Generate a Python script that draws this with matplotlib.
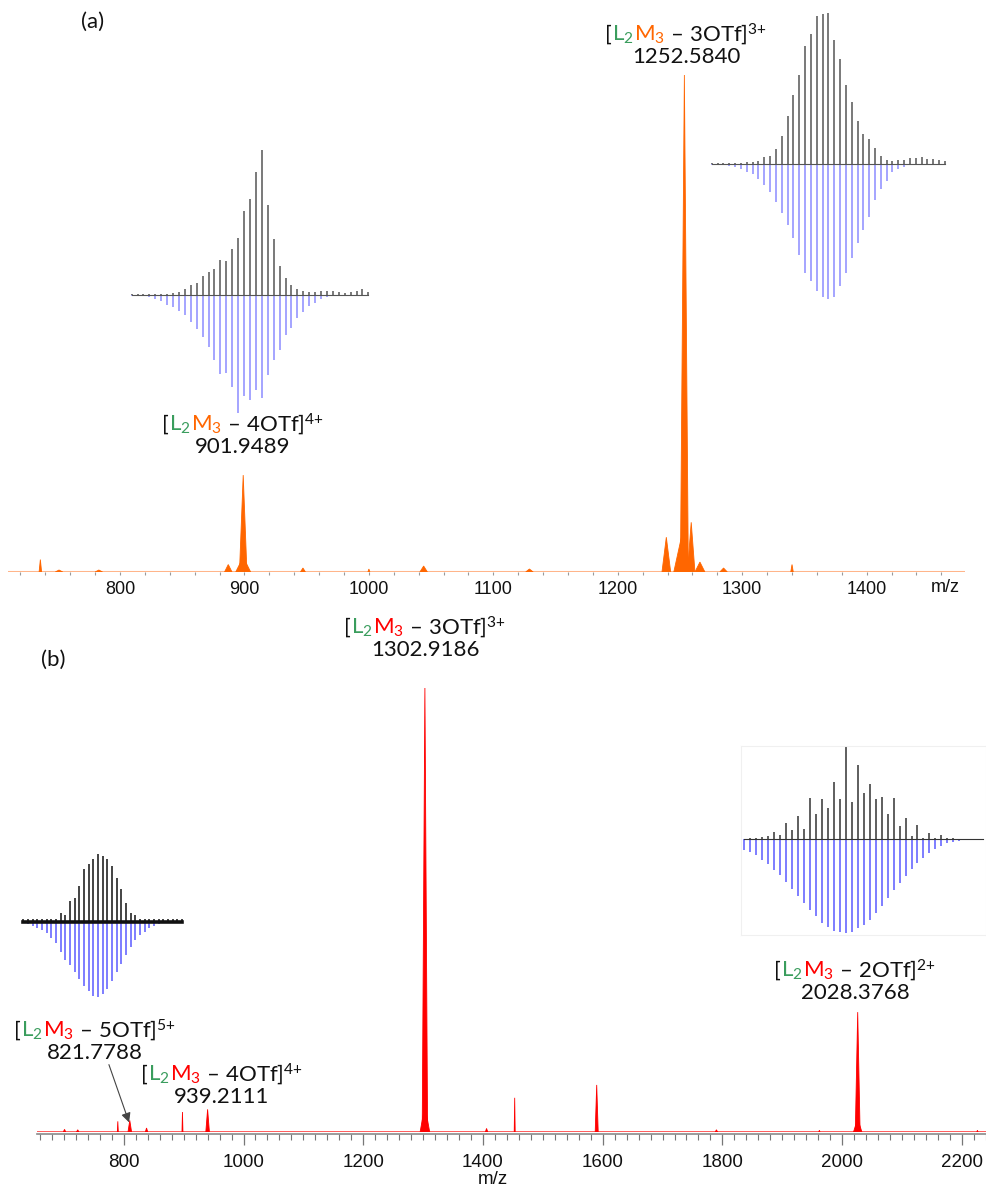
import numpy as np
import matplotlib
matplotlib.use("Agg")
from matplotlib import pyplot as plt
from matplotlib.offsetbox import TextArea, HPacker, VPacker, AnnotationBbox

plt.rcParams['font.family'] = ['Lato', 'DejaVu Sans']
plt.rcParams['mathtext.fontset'] = 'custom'
plt.rcParams['mathtext.rm'] = 'Lato'
plt.rcParams['mathtext.it'] = 'Lato:italic'
plt.rcParams['mathtext.bf'] = 'Lato:bold'

# ---- spectrum (a): peak m/z, relative height, half width (m/z)
a_mz = [736, 751, 783, 887, 899, 899, 947, 1000, 1044, 1129, 1239, 1252, 1253.5, 1259, 1266, 1285, 1340]
a_int = [0.025, 0.004, 0.004, 0.015, 0.03, 0.195, 0.008, 0.006, 0.012, 0.006, 0.07, 0.08, 1.0, 0.10, 0.02, 0.008, 0.015]
a_wid = [1.0, 3, 3, 3, 6, 3.0, 2, 0.8, 3, 3, 3.5, 7, 3.2, 3, 4, 3, 1]

# ---- spectrum (b)
b_mz = [701, 723, 790, 810, 838, 898, 940, 1303, 1303, 1406, 1453, 1590, 1790, 1962, 2026, 2026, 2226]
b_int = [0.006, 0.005, 0.024, 0.026, 0.009, 0.045, 0.051, 0.06, 1.0, 0.008, 0.077, 0.106, 0.005, 0.004, 0.03, 0.27, 0.004]
b_wid = [2, 2, 0.8, 3, 2, 0.8, 3, 8, 4.5, 2, 0.8, 2.5, 2, 1, 7, 4, 1]

# ---- isotope patterns (experimental up / simulated down)
a1_exp = [3, 3, 3, 4, 4, 5, 5, 8, 10, 20, 32, 36, 60, 72, 80, 108, 104, 140, 175, 255, 292,
          372, 440, 275, 170, 88, 52, 30, 20, 14, 10, 10, 14, 12, 12, 10, 8, 10, 12, 18, 10]
a1_sim = [2, 2, 3, 5, 10, 18, 28, 35, 48, 60, 80, 102, 125, 155, 195, 238, 235, 278, 355, 305, 318,
          285, 310, 240, 195, 165, 120, 100, 70, 50, 33, 22, 12, 5, 3, 2, 2, 1, 1, 0, 0]
a2_exp = [2, 2, 2, 2, 3, 3, 5, 7, 10, 20, 25, 45, 85, 145, 210, 270, 360, 395, 450, 455, 460,
          378, 320, 240, 190, 130, 90, 75, 50, 25, 12, 10, 12, 12, 18, 18, 22, 15, 15, 12, 10]
a2_sim = [2, 2, 3, 5, 10, 15, 25, 30, 45, 65, 85, 115, 150, 185, 225, 275, 330, 355, 385, 405, 410,
          405, 370, 330, 285, 240, 200, 160, 110, 75, 50, 25, 15, 8, 2, 2, 1, 1, 1, 0, 0]
b1_exp = [8, 8, 8, 8, 8, 8, 8, 8, 25, 20, 60, 70, 105, 155, 170, 185, 200, 195, 185, 165, 130,
          95, 55, 25, 20, 8, 8, 8, 8, 8, 8, 8, 8, 8, 8]
b1_sim = [5, 8, 12, 18, 25, 35, 50, 65, 90, 115, 130, 150, 170, 190, 205, 220, 225, 215, 200, 175,
          150, 125, 100, 75, 55, 40, 30, 20, 12, 8, 5, 3, 2, 1, 1]
b2_exp = [2, 3, 3, 8, 10, 22, 12, 50, 28, 70, 32, 125, 75, 120, 93, 172, 120, 280, 113, 222, 138,
          165, 120, 128, 75, 123, 40, 65, 10, 43, 5, 18, 5, 12, 3, 5, 2, 2, 2, 2, 2]
b2_sim = [32, 38, 48, 62, 75, 92, 108, 128, 148, 170, 192, 212, 232, 252, 265, 275, 280, 282, 278, 268,
          258, 242, 222, 200, 178, 152, 130, 110, 90, 70, 55, 42, 30, 20, 12, 8, 5, 3, 2, 1, 1]

W, H = 987, 1189
fig = plt.figure(figsize=(W / 100, H / 100), dpi=100)


def fx(x):
    return x / W


def fy(y):
    return 1 - y / H


def axes_px(left, top, right, bottom):
    return fig.add_axes([left / W, 1 - bottom / H, (right - left) / W, (bottom - top) / H])


def draw_spectrum(ax, mz, inten, wid, col):
    for c, h, w in zip(mz, inten, wid):
        ax.fill([c - w, c, c + w], [0, h, 0], color=col, lw=0.6)


def draw_pattern(ax, exp, sim, exp_col, sim_col, base_lw=0.8):
    n = len(exp)
    x = np.arange(n)
    ax.vlines(x, 0, exp, color=exp_col, lw=1.1)
    ax.vlines(x, 0, -np.array(sim), color=sim_col, lw=1.1)
    ax.plot([0, n - 1], [0, 0], color=exp_col, lw=base_lw)
    ax.set_xlim(-0.5, n - 0.5)
    ax.set_ylim(-max(sim) * 1.02, max(exp))
    ax.axis('off')


def formula(x, y, n, charge, number, mcol):
    fs = 16
    ink = '#111111'
    parts = [TextArea("[", textprops=dict(color=ink, fontsize=fs)),
             TextArea("L$_2$", textprops=dict(color='#3a9d5d', fontsize=fs)),
             TextArea("M$_3$", textprops=dict(color=mcol, fontsize=fs)),
             TextArea(" – " + n + "OTf]$^{" + charge + "{+}}$", textprops=dict(color=ink, fontsize=fs))]
    line1 = HPacker(children=parts, align="baseline", pad=0, sep=0)
    line2 = TextArea(number, textprops=dict(color=ink, fontsize=fs))
    box = VPacker(children=[line1, line2], align="center", pad=0, sep=0)
    ab = AnnotationBbox(box, (fx(x), fy(y)), xycoords='figure fraction', frameon=False,
                        box_alignment=(0.5, 0.5), pad=0)
    fig.add_artist(ab)


orange = '#FF6600'
red = '#FF0000'

# ---------------- panel (a)
ax_a = axes_px(8, 75, 965, 572)
ax_a.axhline(0, color='#FFB58A', lw=2.2, zorder=1)
draw_spectrum(ax_a, a_mz, a_int, a_wid, orange)
ax_a.set_xlim(710, 1479)
ax_a.set_ylim(0, 1)
for s in ax_a.spines.values():
    s.set_visible(False)
ax_a.set_yticks([])
ax_a.set_xticks(np.arange(800, 1401, 100))
ax_a.set_xticks(np.arange(720, 1480, 20), minor=True)
ax_a.tick_params(axis='x', which='both', direction='out', length=2.5, width=0.8, color='#999999',
                 labelsize=13, pad=4, labelfontfamily='Liberation Sans', labelcolor='#111111')
fig.text(fx(945), fy(588), "m/z", ha='center', va='center', fontsize=13,
         family='Liberation Sans', color='#111111')
fig.text(fx(93), fy(22), "(a)", ha='center', va='center', fontsize=16, color='#111111')

ins = axes_px(128.7, 150, 371.3, 415)
draw_pattern(ins, a1_exp, a1_sim, '#555555', '#8c8cff')
ins = axes_px(708.8, 12.7, 947.9, 301.7)
draw_pattern(ins, a2_exp, a2_sim, '#555555', '#8c8cff')

formula(686, 44, "3", "3", "1252.5840", orange)
formula(243, 434, "4", "4", "901.9489", orange)

# ---------------- panel (b)
ax_b = axes_px(37, 688, 987, 1132)
ax_b.axhline(0, color='#FF4040', lw=1.2, zorder=1)
draw_spectrum(ax_b, b_mz, b_int, b_wid, red)
ax_b.set_xlim(655, 2242)
ax_b.set_ylim(0, 1)
for k in ['top', 'left', 'right']:
    ax_b.spines[k].set_visible(False)
ax_b.spines['bottom'].set_color('#8a8a8a')
ax_b.spines['bottom'].set_linewidth(1.2)
ax_b.spines['bottom'].set_position(('outward', 1.5))
ax_b.set_yticks([])
ax_b.set_xticks(np.arange(800, 2201, 200))
ax_b.set_xticks(np.arange(660, 2242, 20), minor=True)
ax_b.tick_params(axis='x', which='major', direction='out', length=8, width=0.9, color='#777777',
                 labelsize=13.5, pad=6, labelfontfamily='Liberation Sans', labelcolor='#111111')
ax_b.tick_params(axis='x', which='minor', direction='out', length=4, width=0.8, color='#777777')
fig.text(fx(493), fy(1180), "m/z", ha='center', va='center', fontsize=13.5,
         family='Liberation Sans', color='#111111')
fig.text(fx(53), fy(660), "(b)", ha='center', va='center', fontsize=16, color='#111111')

ins = axes_px(21, 854, 184.3, 999)
draw_pattern(ins, b1_exp, b1_sim, '#111111', '#5a5aff', base_lw=2.6)
ins = axes_px(741, 746, 986.3, 935)
draw_pattern(ins, b2_exp, b2_sim, '#333333', '#5a5aff')
ins.axis('on')
ins.set_xticks([])
ins.set_yticks([])
for s in ins.spines.values():
    s.set_color('#f0f0f0')
    s.set_linewidth(0.8)

formula(425, 637, "3", "3", "1302.9186", red)
formula(855, 980, "2", "2", "2028.3768", red)
formula(95, 1040, "5", "5", "821.7788", red)
formula(222, 1084, "4", "4", "939.2111", red)

fig.add_artist(plt.Annotation("", xy=(fx(130), fy(1125)), xytext=(fx(108), fy(1062)),
                              xycoords='figure fraction', textcoords='figure fraction',
                              arrowprops=dict(arrowstyle='-|>', color='#444444', lw=0.8,
                                              mutation_scale=14)))

fig.savefig("out.png", dpi=100)
